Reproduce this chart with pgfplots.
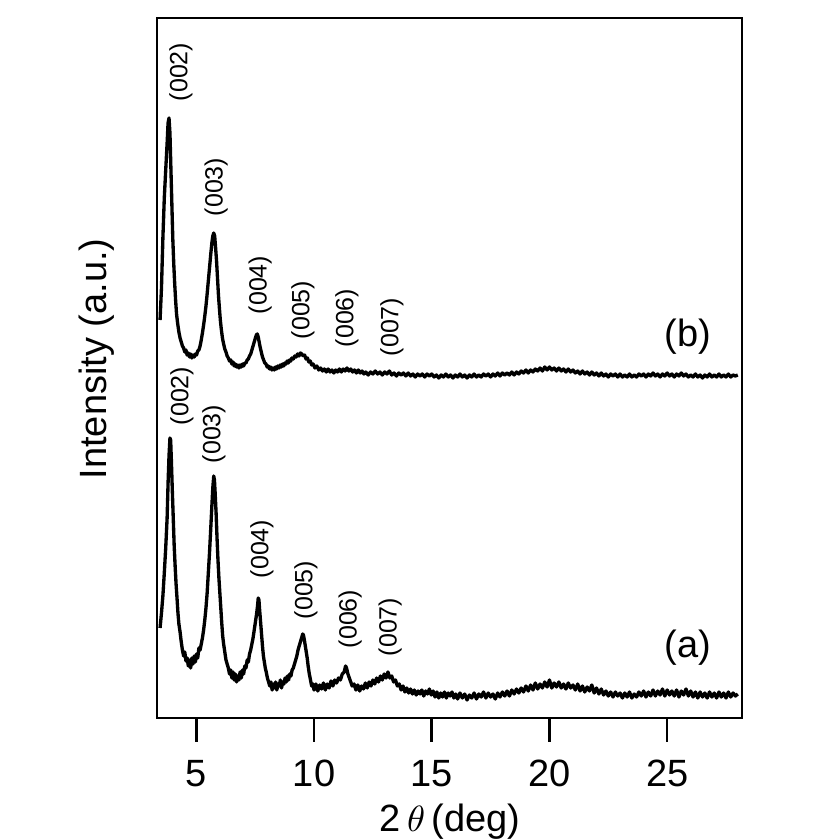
\documentclass[border=0pt]{standalone}
\usepackage{pgfplots}
\pgfplotsset{compat=1.18}
\usepackage{fontspec}
\setmainfont{Liberation Sans}
\newcommand{\bigf}{\fontsize{11.4}{13}\selectfont}
\newcommand{\smallf}{\fontsize{7.5}{9}\selectfont}
\begin{document}
\begin{tikzpicture}
\begin{axis}[
  scale only axis,
  width=175.5pt, height=210pt,
  xmin=3.33, xmax=28.18, ymin=0, ymax=700,
  xtick={5,10,15,20,25},
  ytick=\empty,
  xtick pos=bottom,
  tick align=outside,
  major tick length=7.2pt,
  every tick/.style={black, line width=0.8pt},
  axis line style={line width=0.8pt},
  /pgf/number format/assume math mode=true,
  ticklabel style={font=\bigf},
  xticklabel style={yshift=-2pt},
  label style={font=\bigf},
  xlabel={2\,$\theta$\,(deg)},
  ylabel={Intensity (a.u.)},
  xlabel style={at={([yshift=-31.2pt]rel axis cs:0.501,0)}, anchor=center, inner sep=0pt},
  ylabel style={at={([xshift=-18pt]rel axis cs:0,0.513)}, anchor=center, inner sep=0pt},
  clip=false,
]
% (a) bottom pattern
\addplot[black, line width=1pt, line join=round] table {
x y
3.46 90
3.52 105
3.58 122
3.64 145
3.70 170
3.76 200
3.80 235
3.84 262
3.88 280
3.91 278
3.94 258
3.98 228
4.02 200
4.06 172
4.10 152
4.14 134
4.18 120
4.22 105
4.26 94
4.31 86
4.36 76
4.41 68
4.46 62
4.51 66
4.56 57
4.61 60
4.66 52
4.71 58
4.76 50
4.81 60
4.86 54
4.91 62
4.96 56
5.01 64
5.06 60
5.11 70
5.16 68
5.21 74
5.26 80
5.31 88
5.36 98
5.41 110
5.46 125
5.51 145
5.56 165
5.61 188
5.66 212
5.70 230
5.74 242
5.77 238
5.80 225
5.84 205
5.88 180
5.92 158
5.96 140
6.00 125
6.04 110
6.08 95
6.12 82
6.16 74
6.21 66
6.26 58
6.31 54
6.36 50
6.41 44
6.46 48
6.51 40
6.56 46
6.61 38
6.66 44
6.71 36
6.76 42
6.81 38
6.86 46
6.91 40
6.96 48
7.01 44
7.06 52
7.11 50
7.16 58
7.21 56
7.26 64
7.31 68
7.36 74
7.41 80
7.46 88
7.51 96
7.56 104
7.60 112
7.63 120
7.66 118
7.69 108
7.73 96
7.77 84
7.81 72
7.85 62
7.89 56
7.93 50
7.97 46
8.02 40
8.07 36
8.12 32
8.17 36
8.22 28
8.27 34
8.32 30
8.37 36
8.42 28
8.47 34
8.52 32
8.57 38
8.62 30
8.67 36
8.72 34
8.77 40
8.82 36
8.87 42
8.92 38
8.97 44
9.02 42
9.07 48
9.12 50
9.17 54
9.22 58
9.27 62
9.32 68
9.37 72
9.42 76
9.47 80
9.52 84
9.55 83
9.59 78
9.63 72
9.67 66
9.71 60
9.75 52
9.80 44
9.85 38
9.90 32
9.95 34
10.00 28
10.08 34
10.16 27
10.24 33
10.32 29
10.40 35
10.48 28
10.56 34
10.64 30
10.72 37
10.80 32
10.88 38
10.96 35
11.04 40
11.12 38
11.20 44
11.28 46
11.34 52
11.38 50
11.44 44
11.50 40
11.56 36
11.62 32
11.70 34
11.78 28
11.86 33
11.94 27
12.02 32
12.10 29
12.18 35
12.26 30
12.34 36
12.42 32
12.50 38
12.58 34
12.66 40
12.74 36
12.82 42
12.90 38
12.98 44
13.06 40
13.14 46
13.22 40
13.30 42
13.38 36
13.46 38
13.54 32
13.62 34
13.70 28
13.78 32
13.86 26
13.94 30
14.02 25
14.10 29
14.18 24
14.26 28
14.34 23
14.42 27
14.50 24
14.58 28
14.66 22
14.74 27
14.82 24
14.90 29
14.98 23
15.06 27
15.14 21
15.22 26
15.30 20
15.38 25
15.46 21
15.54 26
15.62 20
15.70 25
15.78 22
15.86 26
15.94 20
16.02 24
16.1 19
16.2 25
16.3 20
16.4 24
16.5 18
16.6 23
16.7 20
16.8 25
16.9 19
17.0 24
17.1 21
17.2 26
17.3 20
17.4 25
17.5 21
17.6 24
17.7 19
17.8 25
17.9 21
18.0 26
18.1 22
18.2 27
18.3 22
18.4 28
18.5 24
18.6 29
18.7 25
18.8 30
18.9 26
19.0 32
19.1 27
19.2 33
19.3 28
19.4 35
19.5 29
19.6 34
19.7 30
19.8 36
19.9 31
20.0 38
20.1 30
20.2 35
20.3 31
20.4 36
20.5 30
20.6 34
20.7 29
20.8 35
20.9 30
21.0 33
21.1 28
21.2 34
21.3 27
21.4 32
21.5 26
21.6 31
21.7 27
21.8 33
21.9 25
22.0 30
22.1 24
22.2 29
22.3 23
22.4 27
22.5 22
22.6 26
22.7 21
22.8 26
22.9 22
23.0 25
23.1 20
23.2 25
23.3 21
23.4 26
23.5 20
23.6 24
23.7 21
23.8 26
23.9 22
24.0 27
24.1 21
24.2 26
24.3 22
24.4 28
24.5 22
24.6 27
24.7 23
24.8 29
24.9 22
25.0 28
25.1 23
25.2 27
25.3 22
25.4 28
25.5 21
25.6 27
25.7 23
25.8 29
25.9 22
26.0 27
26.1 21
26.2 26
26.3 20
26.4 26
26.5 21
26.6 25
26.7 20
26.8 26
26.9 21
27.0 25
27.1 20
27.2 26
27.3 21
27.4 25
27.5 20
27.6 26
27.7 21
27.8 25
27.9 22
28.0 24
};
% (b) top pattern
\addplot[black, line width=1pt, line join=round] table {
x y
3.46 398
3.52 430
3.58 480
3.64 520
3.70 548
3.76 575
3.80 595
3.84 600
3.88 585
3.92 550
3.96 515
4.00 480
4.04 455
4.08 435
4.12 418
4.16 404
4.21 394
4.26 386
4.31 380
4.36 376
4.41 372
4.46 370
4.51 366
4.56 368
4.61 363
4.66 365
4.71 361
4.76 364
4.81 360
4.86 363
4.91 361
4.96 364
5.01 363
5.06 367
5.11 368
5.16 372
5.21 378
5.26 385
5.31 393
5.36 402
5.41 412
5.46 424
5.51 437
5.56 450
5.61 463
5.66 475
5.70 482
5.74 485
5.78 482
5.82 470
5.86 457
5.90 440
5.94 423
5.98 410
6.02 398
6.06 389
6.11 380
6.16 374
6.21 369
6.26 366
6.31 362
6.36 360
6.41 357
6.46 358
6.51 354
6.56 356
6.61 352
6.66 354
6.71 351
6.76 353
6.81 350
6.86 353
6.91 351
6.96 354
7.01 352
7.06 355
7.11 355
7.16 358
7.21 359
7.26 362
7.31 364
7.36 368
7.41 372
7.46 376
7.51 380
7.55 383
7.59 384
7.63 381
7.67 376
7.71 371
7.76 366
7.81 361
7.86 358
7.91 355
7.96 354
8.01 351
8.06 352
8.11 349
8.16 351
8.21 348
8.26 350
8.31 348
8.36 351
8.41 349
8.46 352
8.51 350
8.56 353
8.61 351
8.66 354
8.71 352
8.76 355
8.81 354
8.86 357
8.91 355
8.96 358
9.01 357
9.06 360
9.12 359
9.18 362
9.24 361
9.30 364
9.36 362
9.42 365
9.48 364
9.54 362
9.60 363
9.66 359
9.72 360
9.78 356
9.84 357
9.90 353
9.96 354
10.04 350
10.12 352
10.20 348
10.28 350
10.36 347
10.44 349
10.52 346
10.60 349
10.68 346
10.76 348
10.84 345
10.92 348
11.00 346
11.08 349
11.16 346
11.24 349
11.32 347
11.40 350
11.48 347
11.56 349
11.64 346
11.72 348
11.80 345
11.88 348
11.96 345
12.04 347
12.12 344
12.2 346
12.3 343
12.4 346
12.5 344
12.6 347
12.7 344
12.8 346
12.9 343
13.0 346
13.1 344
13.2 347
13.3 343
13.4 345
13.5 342
13.6 345
13.7 343
13.8 345
13.9 342
14.0 345
14.1 342
14.2 344
14.3 341
14.4 344
14.5 342
14.6 344
14.7 341
14.8 344
14.9 342
15.0 344
15.1 341
15.2 343
15.3 340
15.4 343
15.5 341
15.6 344
15.7 341
15.8 343
15.9 340
16.0 343
16.1 341
16.2 344
16.3 341
16.4 343
16.5 340
16.6 343
16.7 341
16.8 344
16.9 341
17.0 343
17.1 341
17.2 344
17.3 342
17.4 344
17.5 341
17.6 344
17.7 342
17.8 345
17.9 342
18.0 345
18.1 343
18.2 345
18.3 343
18.4 346
18.5 343
18.6 346
18.7 344
18.8 347
18.9 345
19.0 348
19.1 345
19.2 348
19.3 346
19.4 349
19.5 347
19.6 350
19.7 347
19.8 351
19.9 348
20.0 351
20.1 348
20.2 350
20.3 347
20.4 350
20.5 347
20.6 349
20.7 346
20.8 349
20.9 346
21.0 348
21.1 345
21.2 347
21.3 344
21.4 347
21.5 344
21.6 346
21.7 343
21.8 346
21.9 343
22.0 345
22.1 342
22.2 345
22.3 342
22.4 344
22.5 341
22.6 344
22.7 342
22.8 344
22.9 341
23.0 344
23.1 341
23.2 343
23.3 341
23.4 344
23.5 341
23.6 343
23.7 341
23.8 344
23.9 342
24.0 344
24.1 341
24.2 344
24.3 342
24.4 345
24.5 342
24.6 344
24.7 341
24.8 344
24.9 342
25.0 345
25.1 342
25.2 344
25.3 341
25.4 344
25.5 342
25.6 345
25.7 342
25.8 344
25.9 341
26.0 343
26.1 341
26.2 344
26.3 341
26.4 343
26.5 340
26.6 343
26.7 341
26.8 344
26.9 341
27.0 343
27.1 341
27.2 344
27.3 341
27.4 343
27.5 341
27.6 344
27.7 341
27.8 343
27.9 342
28.0 343
};
% peak labels (b)
\begin{scope}[every node/.style={rotate=90, font=\smallf, inner sep=0pt}]
\node at (axis cs:4.35,646) {(002)};
\node at (axis cs:5.84,531) {(003)};
\node at (axis cs:7.71,433) {(004)};
\node at (axis cs:9.53,408) {(005)};
\node at (axis cs:11.40,400) {(006)};
\node at (axis cs:13.31,391) {(007)};
% peak labels (a)
\node at (axis cs:4.39,322) {(002)};
\node at (axis cs:5.75,284) {(003)};
\node at (axis cs:7.79,169) {(004)};
\node at (axis cs:9.66,128) {(005)};
\node at (axis cs:11.53,99) {(006)};
\node at (axis cs:13.23,91) {(007)};
\end{scope}
\node[font=\bigf, inner sep=0pt] at (axis cs:25.89,381) {(b)};
\node[font=\bigf, inner sep=0pt] at (axis cs:25.89,70) {(a)};
% page frame
\path ([xshift=-47.1pt,yshift=-36.6pt]rel axis cs:0,0) rectangle ([xshift=24.6pt,yshift=5.4pt]rel axis cs:1,1);
\end{axis}
\end{tikzpicture}
\end{document}
